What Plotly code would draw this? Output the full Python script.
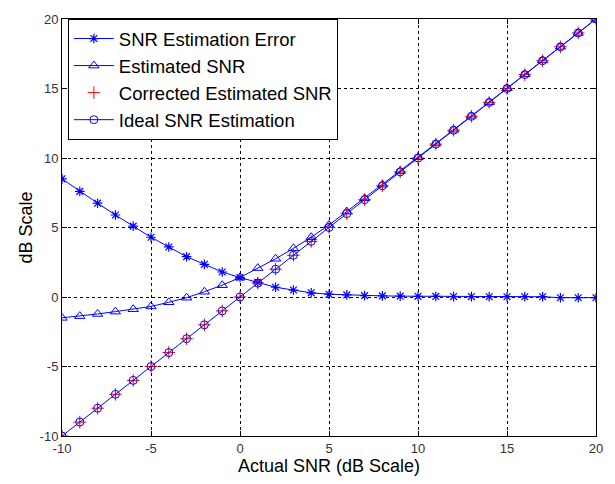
import plotly.graph_objects as go

actual_snr = list(range(-10, 21))

snr_error = [8.5, 7.6, 6.75, 5.9, 5.1, 4.3, 3.6, 2.9, 2.35, 1.8, 1.4, 1.05, 0.7, 0.5, 0.3,
             0.2, 0.15, 0.1, 0.08, 0.06, 0.05, 0.04, 0.03, 0.03, 0.02, 0.02, 0.02, 0.02,
             -0.05, -0.05, -0.05]

estimated_snr = [-1.5, -1.38, -1.22, -1.05, -0.88, -0.68, -0.38, -0.05, 0.38, 0.85, 1.4,
                 2.08, 2.75, 3.5, 4.3, 5.18, 6.15, 7.1, 8.08, 9.06, 10.05, 11.04, 12.03,
                 13.03, 14.02, 15.02, 16.02, 17.02, 18.0, 19.0, 20.0]

corrected_snr = [-10, -9, -8, -7, -6, -5, -4, -3, -2, -1, 0, 1, 2, 3, 4, 5, 6, 7, 8, 9, 10,
                 11, 12, 13, 14, 15, 16, 17, 18, 19, 20]

ideal_snr = [-10, -9, -8, -7, -6, -5, -4, -3, -2, -1, 0, 1, 2, 3, 4, 5, 6, 7, 8, 9, 10,
             11, 12, 13, 14, 15, 16, 17, 18, 19, 20]

tick_vals = [-10, -5, 0, 5, 10, 15, 20]
tick_text = ["-10", "-5", "0", "5", "10", "15", "20"]

BLUE = "#0000ff"
RED = "#ff0000"

fig = go.Figure()
fig.add_trace(go.Scatter(
    x=actual_snr, y=snr_error, mode="lines+markers", name="SNR Estimation Error",
    line=dict(color=BLUE, width=1),
    marker=dict(symbol="asterisk-open", size=8, line=dict(color=BLUE, width=1.2))))
fig.add_trace(go.Scatter(
    x=actual_snr, y=estimated_snr, mode="lines+markers", name="Estimated SNR",
    line=dict(color=BLUE, width=1),
    marker=dict(symbol="triangle-up-open", size=9, color=BLUE, line=dict(color=BLUE, width=1))))
fig.add_trace(go.Scatter(
    x=actual_snr, y=corrected_snr, mode="markers", name="Corrected Estimated SNR",
    marker=dict(symbol="cross-thin-open", size=9, color=RED, line=dict(color=RED, width=1))))
fig.add_trace(go.Scatter(
    x=actual_snr, y=ideal_snr, mode="lines+markers", name="Ideal SNR Estimation",
    line=dict(color=BLUE, width=1),
    marker=dict(symbol="circle-open", size=8, color=BLUE, line=dict(color=BLUE, width=1))))

axis_common = dict(
    range=[-10, 20], tickvals=tick_vals, ticktext=tick_text, showline=True,
    linecolor="black", linewidth=1,
    mirror="ticks", ticks="inside", ticklen=5, tickcolor="black",
    showgrid=True, gridcolor="black", gridwidth=1, griddash="dot", zeroline=False,
    tickfont=dict(family="Arial, Liberation Sans, sans-serif", size=13, color="#333333"),
)

fig.update_layout(
    width=615, height=484,
    margin=dict(l=62, r=18, t=15, b=44),
    paper_bgcolor="white", plot_bgcolor="white",
    font=dict(family="Arial, Liberation Sans, sans-serif", color="black"),
    xaxis=dict(**axis_common, title=dict(text="Actual SNR (dB Scale)",
                                         font=dict(size=18, color="black"), standoff=4)),
    yaxis=dict(**axis_common, title=dict(text="dB Scale",
                                         font=dict(size=18, color="black"), standoff=2)),
    legend=dict(x=0.011, y=1.0, xanchor="left", yanchor="top",
                bgcolor="white", bordercolor="black", borderwidth=1,
                font=dict(size=18.5, color="black"), itemwidth=40, tracegroupgap=0),
    showlegend=True,
)

fig.write_html("out.html")
